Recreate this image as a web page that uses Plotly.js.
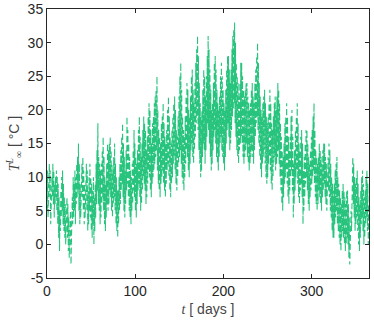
<!DOCTYPE html>
<html>
<head>
<meta charset="utf-8">
<script src="https://cdn.plot.ly/plotly-3.0.1.min.js"></script>
<style>
  html, body { margin: 0; padding: 0; background: #fff; }
  #chart { width: 374px; height: 323px; }
</style>
</head>
<body>
<div id="chart"></div>
<script>
// daily minimum / maximum temperature (days 0..364)
const dailyLow = [
  5, 4, 6, 7, 3, 5, 7, 6, 4, 6,
  7, 5, 3, 1, -1, 2, 4, 5, 3, 2,
  1, 0, 2, 1, -1, -2, 0, -3, 1, 3,
  4, 5, 3, 6, 7, 8, 5, 3, 4, 6,
  7, 5, 3, 4, 6, 5, 2, 3, 5, 4,
  2, 1, 3, 0, 2, 4, 6, 8, 6, 5,
  3, 4, 6, 7, 5, 3, 2, 4, 6, 5,
  6, 8, 7, 5, 4, 6, 7, 5, 3, 2,
  1, 3, 5, 6, 8, 9, 7, 5, 4, 6,
  8, 9, 7, 5, 4, 3, 5, 6, 8, 7,
  5, 4, 6, 8, 9, 7, 5, 6, 8, 10,
  9, 8, 6, 7, 9, 11, 10, 8, 7, 9,
  10, 11, 12, 13, 14, 11, 9, 8, 7, 9,
  10, 11, 9, 8, 7, 9, 11, 12, 10, 8,
  7, 9, 10, 12, 13, 11, 9, 8, 10, 12,
  13, 14, 12, 10, 9, 8, 10, 12, 14, 13,
  11, 10, 12, 14, 15, 13, 12, 14, 16, 18,
  19, 17, 14, 12, 10, 11, 13, 15, 14, 12,
  14, 16, 18, 17, 15, 13, 11, 12, 14, 16,
  17, 15, 13, 12, 11, 13, 15, 16, 14, 13,
  12, 11, 13, 15, 17, 18, 16, 14, 15, 17,
  19, 20, 21, 18, 16, 14, 13, 12, 14, 15,
  16, 15, 13, 12, 13, 14, 15, 13, 12, 11,
  12, 13, 14, 13, 12, 14, 16, 18, 19, 17,
  15, 13, 11, 10, 12, 13, 14, 12, 10, 9,
  10, 12, 13, 11, 9, 8, 10, 12, 13, 11,
  12, 13, 14, 12, 10, 8, 6, 5, 7, 9,
  10, 11, 9, 7, 6, 8, 10, 11, 8, 4,
  6, 8, 10, 11, 9, 7, 6, 8, 9, 7,
  3, 5, 7, 9, 10, 8, 6, 5, 7, 8,
  9, 10, 11, 9, 7, 6, 5, 6, 8, 7,
  6, 5, 7, 8, 9, 7, 6, 5, 7, 8,
  7, 5, 4, 2, 1, 1, 3, 4, 5, 3,
  2, 1, 0, -1, 1, 2, 1, 0, -1, 0,
  1, 0, -2, -3, -1, 2, 5, 6, 4, 2,
  3, 4, 2, 0, -1, 1, 3, 4, 2, 0,
  1, 3, 4, 2, 0
];
const dailyHigh = [
  11, 9, 12, 11, 8, 10, 12, 11, 9, 10,
  11, 10, 9, 7, 5, 8, 10, 11, 9, 7,
  6, 5, 7, 6, 4, 3, 5, 2, 7, 10,
  9, 11, 10, 12, 13, 15, 12, 9, 10, 12,
  13, 11, 9, 10, 12, 11, 8, 10, 12, 10,
  9, 8, 10, 7, 9, 12, 14, 18, 13, 12,
  11, 12, 14, 16, 13, 10, 9, 12, 15, 14,
  15, 16, 14, 12, 11, 13, 15, 12, 10, 8,
  8, 10, 12, 14, 16, 18, 15, 13, 11, 14,
  19, 17, 15, 13, 11, 10, 12, 14, 17, 15,
  13, 12, 14, 17, 19, 16, 13, 15, 17, 19,
  18, 17, 14, 16, 19, 21, 20, 17, 15, 18,
  19, 21, 22, 23, 25, 20, 17, 16, 15, 18,
  19, 21, 18, 16, 15, 17, 20, 22, 19, 16,
  15, 17, 19, 21, 22, 20, 17, 16, 19, 22,
  25, 27, 23, 19, 17, 16, 19, 22, 24, 23,
  20, 19, 22, 25, 26, 23, 21, 24, 27, 29,
  31, 28, 24, 21, 19, 20, 23, 26, 25, 22,
  25, 28, 31, 29, 26, 23, 20, 21, 24, 27,
  28, 26, 23, 21, 20, 22, 25, 27, 25, 23,
  21, 20, 23, 26, 28, 28, 26, 24, 26, 29,
  31, 32, 33, 30, 27, 25, 24, 22, 24, 27,
  27, 25, 23, 22, 23, 24, 24, 22, 21, 20,
  21, 23, 24, 22, 21, 24, 26, 28, 30, 27,
  24, 22, 20, 19, 21, 22, 23, 21, 19, 18,
  19, 21, 23, 21, 18, 17, 19, 21, 22, 20,
  22, 24, 23, 21, 18, 16, 14, 13, 15, 18,
  19, 21, 19, 16, 14, 16, 19, 20, 16, 12,
  14, 17, 19, 21, 18, 15, 14, 16, 17, 15,
  11, 13, 15, 17, 17, 15, 13, 12, 14, 16,
  17, 19, 21, 17, 14, 13, 12, 13, 15, 14,
  13, 12, 14, 15, 15, 13, 12, 11, 13, 15,
  14, 12, 10, 9, 8, 9, 11, 12, 13, 10,
  9, 8, 7, 6, 8, 9, 8, 7, 6, 8,
  8, 6, 4, 3, 5, 9, 13, 12, 10, 9,
  10, 11, 9, 7, 6, 8, 10, 11, 9, 7,
  8, 10, 11, 9, 6
];
const xTicks = [0, 100, 200, 300];
const yTicks = [-5, 0, 5, 10, 15, 20, 25, 30, 35];

// each day: low in the morning, high in the afternoon
const t = [];
const temp = [];
dailyLow.forEach((lo, d) => {
  t.push(d + 0.2, d + 0.65);
  temp.push(lo, dailyHigh[d]);
});

const axisColor = 'rgb(38,38,38)';

const trace = {
  x: t,
  y: temp,
  type: 'scatter',
  mode: 'lines',
  line: { color: 'rgb(40,196,126)', width: 1.1, dash: '6px,3px' },
  hoverinfo: 'x+y',
};

const baseAxis = {
  showgrid: false,
  zeroline: false,
  showline: true,
  mirror: 'ticks',
  linecolor: axisColor,
  linewidth: 1,
  ticks: 'inside',
  ticklen: 4,
  tickcolor: axisColor,
  tickfont: { size: 14, color: axisColor },
};

const layout = {
  width: 374,
  height: 323,
  margin: { l: 47, r: 5, t: 9, b: 45 },
  paper_bgcolor: '#fff',
  plot_bgcolor: '#fff',
  font: { family: 'Liberation Sans, Arial, sans-serif', color: axisColor },
  showlegend: false,
  xaxis: Object.assign({}, baseAxis, {
    range: [0, 365],
    tickvals: xTicks,
    ticktext: xTicks.map(String),
    title: {
      text: '<span style="font-family:Liberation Serif"><i>t</i></span> [ days ]',
      font: { size: 14, color: 'rgb(70,70,70)' },
      standoff: 6,
    },
  }),
  yaxis: Object.assign({}, baseAxis, {
    range: [-5, 35],
    tickvals: yTicks,
    ticktext: yTicks.map(String),
    title: {
      text: '<span style="font-family:Liberation Serif"><i>T</i><sup><i>L</i></sup><sub>∞</sub></span> [ °C ]',
      font: { size: 14, color: 'rgb(70,70,70)' },
      standoff: 4,
    },
  }),
};

Plotly.newPlot('chart', [trace], layout, { displayModeBar: false, staticPlot: true });
</script>
</body>
</html>
